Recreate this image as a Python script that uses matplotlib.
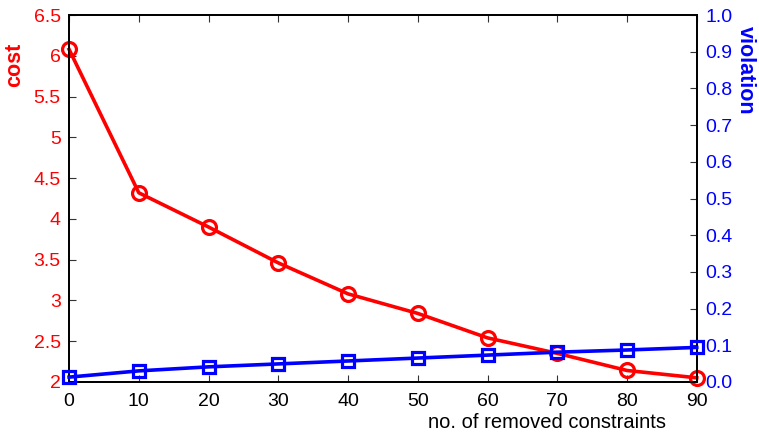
import matplotlib
matplotlib.use('Agg')
import matplotlib.pyplot as plt

plt.rcParams['font.family'] = ['Liberation Sans', 'DejaVu Sans']

# data
removed = [0, 10, 20, 30, 40, 50, 60, 70, 80, 90]
cost = [6.08, 4.32, 3.90, 3.46, 3.08, 2.84, 2.54, 2.35, 2.14, 2.05]
violation = [0.013, 0.030, 0.041, 0.049, 0.057, 0.065, 0.073, 0.081, 0.087, 0.094]

cost_ticks = [2, 2.5, 3, 3.5, 4, 4.5, 5, 5.5, 6, 6.5]
cost_ticklabels = ['2', '2.5', '3', '3.5', '4', '4.5', '5', '5.5', '6', '6.5']
viol_ticks = [0.0, 0.1, 0.2, 0.3, 0.4, 0.5, 0.6, 0.7, 0.8, 0.9, 1.0]

fig = plt.figure(figsize=(7.59, 4.32), dpi=100)
ax = fig.add_axes([0.091, 0.116, 0.827, 0.849])
ax2 = ax.twinx()

ax.plot(removed, cost, color='#ff0000', lw=2.6, marker='o', ms=10,
        mfc='none', mec='#ff0000', mew=2.3, clip_on=False, zorder=3)
ax2.plot(removed, violation, color='#0000ff', lw=2.6, marker='s', ms=9,
         mfc='none', mec='#0000ff', mew=2.3, clip_on=False, zorder=3)

ax.set_xlim(0, 90)
ax.set_ylim(2, 6.5)
ax2.set_ylim(0, 1.0)
ax.set_xticks(removed)
ax.set_yticks(cost_ticks)
ax.set_yticklabels(cost_ticklabels)
ax2.set_yticks(viol_ticks)
ax2.set_yticklabels(['%.1f' % v for v in viol_ticks])

ax.tick_params(axis='x', direction='in', length=5, labelsize=14, top=True,
               pad=8, colors='#333333', labelcolor='black')
ax.tick_params(axis='y', direction='in', length=5, labelsize=14, pad=6,
               colors='#333333', labelcolor='#ff0000')
ax2.tick_params(axis='y', direction='in', length=5, labelsize=14, pad=6,
                colors='#333333', labelcolor='#0000ff')

for a in (ax, ax2):
    for s in a.spines.values():
        s.set_linewidth(1.3)

ax.set_ylabel('cost', color='#ff0000', fontsize=15.5, fontweight='bold')
ax2.set_ylabel('violation', color='#0000ff', fontsize=15.5, fontweight='bold',
               rotation=-90, labelpad=18)
ax.set_xlabel('no. of removed constraints', fontsize=14.5)
ax.xaxis.set_label_coords(0.761, -0.084)
ax.yaxis.set_label_coords(-0.07, 0.864)
ax2.yaxis.set_label_coords(1.095, 0.85)

fig.savefig('out.png', dpi=100)
